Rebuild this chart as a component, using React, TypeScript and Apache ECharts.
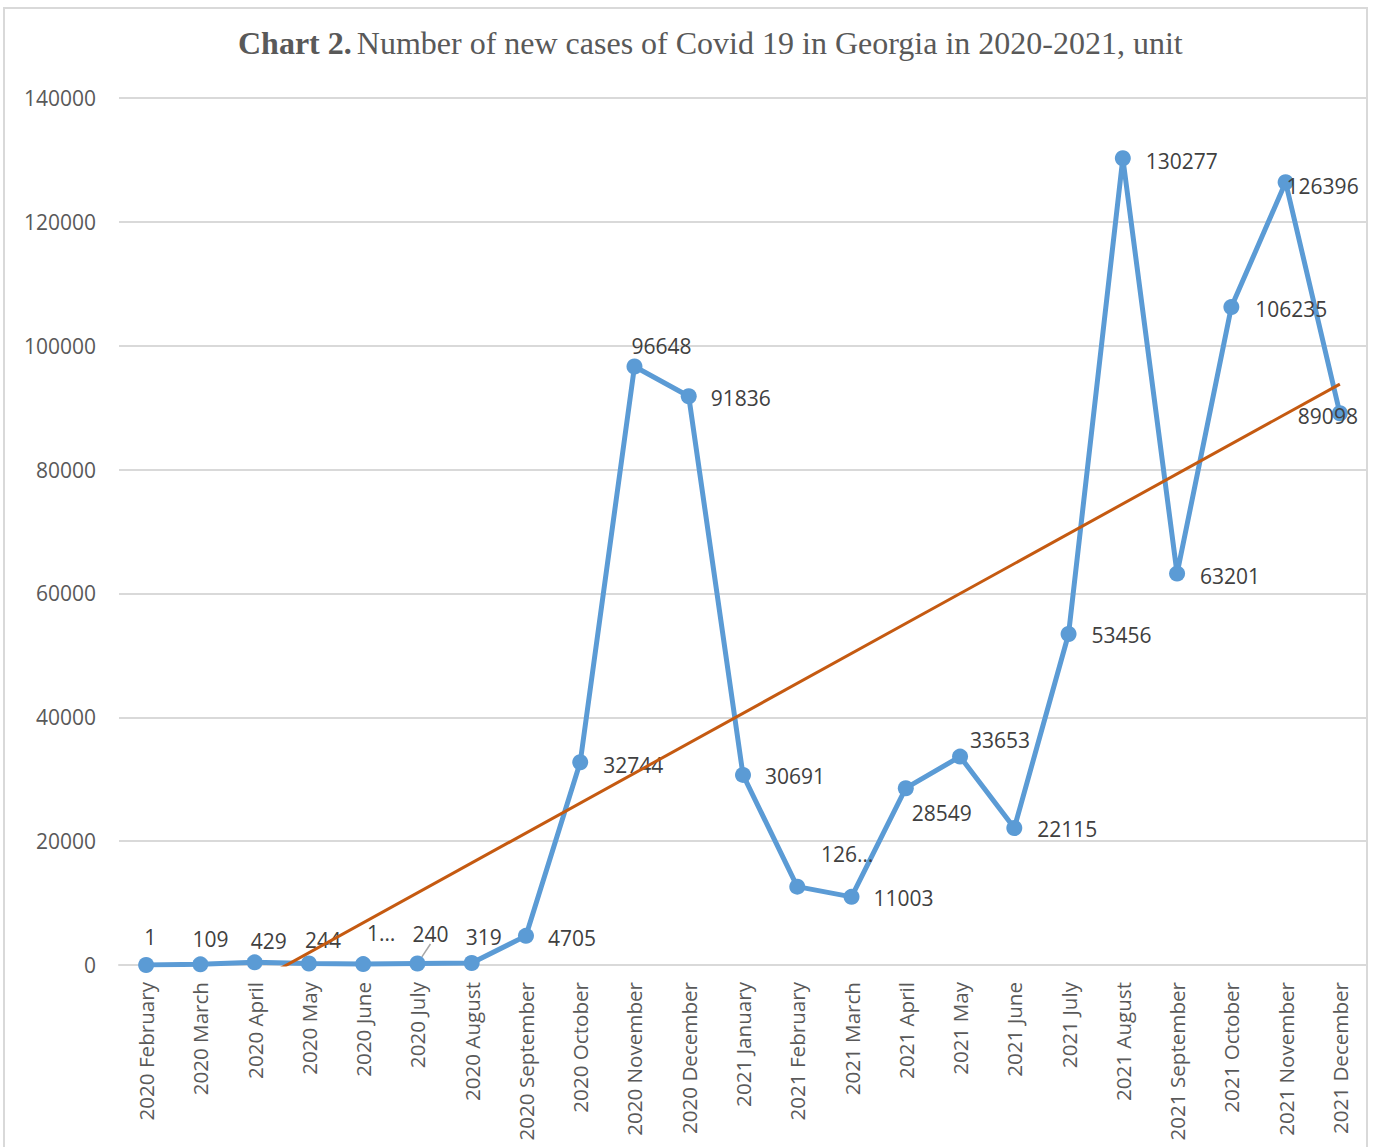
import React, { useEffect, useRef } from "react";
import * as echarts from "echarts";

// Monthly new Covid-19 cases in Georgia, February 2020 – December 2021
const months: string[] = [
  "2020 February", "2020 March", "2020 April", "2020 May", "2020 June", "2020 July",
  "2020 August", "2020 September", "2020 October", "2020 November", "2020 December",
  "2021 January", "2021 February", "2021 March", "2021 April", "2021 May", "2021 June",
  "2021 July", "2021 August", "2021 September", "2021 October", "2021 November", "2021 December",
];

const newCases: number[] = [
  1, 109, 429, 244, 150, 240, 319, 4705, 32744, 96648, 91836,
  30691, 12650, 11003, 28549, 33653, 22115, 53456, 130277, 63201, 106235, 126396, 89098,
];

// Label text per point (two labels are cut short by the chart)
const labelTexts: string[] = [
  "1", "109", "429", "244", "1…", "240", "319", "4705", "32744", "96648", "91836",
  "30691", "126…", "11003", "28549", "33653", "22115", "53456", "130277", "63201", "106235", "126396", "89098",
];

// Label placement relative to each marker centre, in pixels
const labelOffsets: [number, number][] = [
  [4, -28], [10, -25], [14, -21], [14, -23], [18, -31], [13, -30], [12, -26],
  [46, 2], [53, 3], [27, -20], [52, 2], [52, 1], [50, -33], [52, 1], [36, 25],
  [40, -17], [53, 1], [53, 1], [59, 3], [53, 2], [60, 2], [37, 4], [-12, 3],
];

const yTicks = { min: 0, max: 140000, interval: 20000 };

// Least-squares linear trend over the month index
function linearTrend(values: number[]): { slope: number; intercept: number } {
  const n = values.length;
  const mx = (n - 1) / 2;
  const my = values.reduce((a, b) => a + b, 0) / n;
  let sxy = 0;
  let sxx = 0;
  values.forEach((v, i) => {
    sxy += (i - mx) * (v - my);
    sxx += (i - mx) * (i - mx);
  });
  const slope = sxy / sxx;
  return { slope, intercept: my - slope * mx };
}

export default function App() {
  const ref = useRef<HTMLDivElement>(null);

  useEffect(() => {
    if (!ref.current) return;
    const chart = echarts.init(ref.current, null, { renderer: "svg" });
    const { slope, intercept } = linearTrend(newCases);
    const last = newCases.length - 1;
    const trendData = [
      [0, intercept],
      [last, intercept + slope * last],
    ];

    const labelFont = "'Open Sans', 'Noto Sans', sans-serif";
    const titleFont = "'Liberation Serif', 'Times New Roman', serif";

    chart.setOption({
      animation: false,
      backgroundColor: "#ffffff",
      title: {
        left: 233,
        top: 22,
        text: "{b|Chart 2.} {n|Number of new cases of Covid 19 in Georgia in 2020-2021, unit}",
        textStyle: {
          rich: {
            b: { fontFamily: titleFont, fontWeight: "bold", fontSize: 32, color: "#595959" },
            n: { fontFamily: titleFont, fontWeight: "normal", fontSize: 32, color: "#595959" },
          },
        },
      },
      graphic: [
        {
          type: "rect",
          shape: { x: 4, y: 8, width: 1363, height: 1150 },
          style: { fill: "none", stroke: "#D9D9D9", lineWidth: 2 },
          silent: true,
          z: -10,
        },
      ],
      grid: { left: 119, right: 7, top: 98, bottom: 182, containLabel: false },
      xAxis: [
        {
          type: "category",
          data: months,
          boundaryGap: true,
          axisLine: { show: true, lineStyle: { color: "#D9D9D9", width: 2 } },
          axisTick: { show: false },
          axisLabel: {
            rotate: 90,
            interval: 0,
            margin: 17,
            fontFamily: labelFont,
            fontSize: 20.6,
            color: "#595959",
          },
        },
        {
          type: "value",
          min: -0.5,
          max: last + 0.5,
          show: false,
        },
      ],
      yAxis: {
        type: "value",
        min: yTicks.min,
        max: yTicks.max,
        interval: yTicks.interval,
        axisLine: { show: false },
        axisTick: { show: false },
        splitLine: { lineStyle: { color: "#D9D9D9", width: 2 } },
        axisLabel: {
          margin: 23,
          fontFamily: labelFont,
          fontSize: 21,
          color: "#595959",
          formatter: (v: number) => String(v),
        },
      },
      series: [
        {
          type: "line",
          name: "New cases",
          xAxisIndex: 0,
          data: newCases.map((v, i) => ({
            value: v,
            label: {
              formatter: labelTexts[i],
            },
            labelLine: i === 5 ? { show: true, lineStyle: { color: "#A6A6A6", width: 1.5 } } : { show: false },
          })),
          lineStyle: { color: "#5B9BD5", width: 5 },
          itemStyle: { color: "#5B9BD5" },
          symbol: "circle",
          symbolSize: 16,
          showAllSymbol: true,
          label: {
            show: true,
            position: "inside",
            align: "center",
            verticalAlign: "middle",
            fontFamily: labelFont,
            fontSize: 21,
            color: "#404040",
          },
          labelLayout: (params: any) => {
            const off = labelOffsets[params.dataIndex] || [0, 0];
            return { dx: off[0], dy: off[1] };
          },
          z: 2,
        },
        {
          type: "line",
          name: "Linear trend",
          xAxisIndex: 1,
          data: trendData,
          symbol: "none",
          clip: true,
          lineStyle: { color: "#C55A11", width: 3 },
          z: 3,
        },
      ],
    });

    return () => chart.dispose();
  }, []);

  return (
    <div
      ref={ref}
      style={{ position: "fixed", left: 0, top: 0, width: 1374, height: 1147, background: "#fff" }}
    />
  );
}
